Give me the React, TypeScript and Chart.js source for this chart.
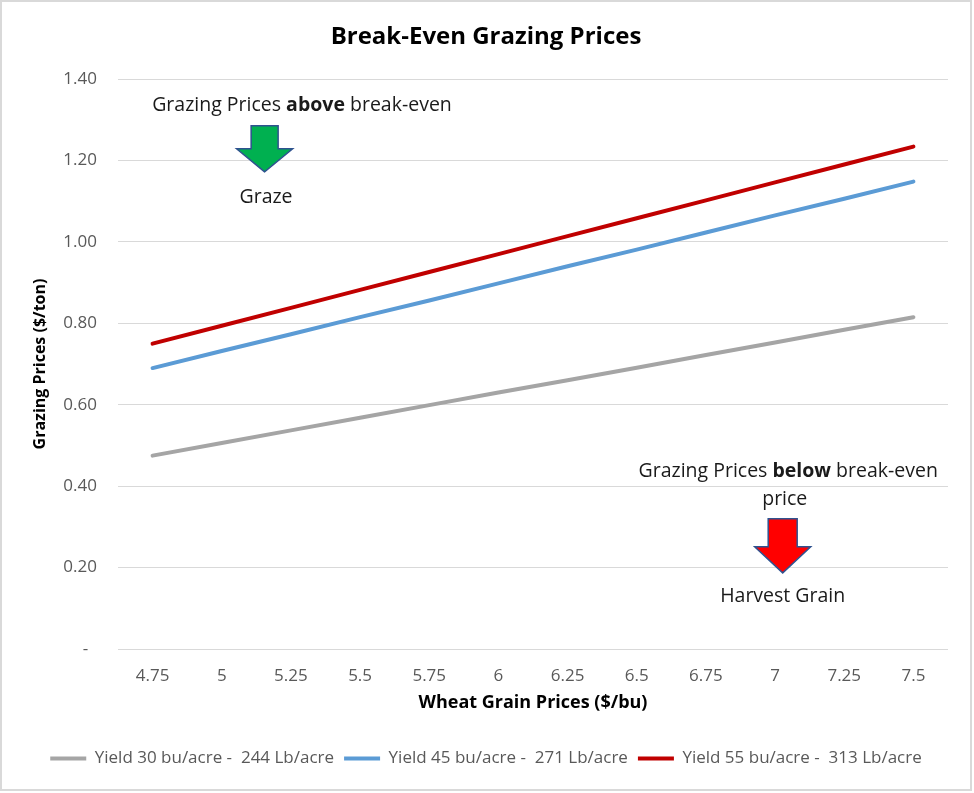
import React, { useEffect, useRef } from 'react';
import Chart from 'chart.js/auto';

// wheat grain price categories ($/bu)
const wheatPrices = ['4.75', '5', '5.25', '5.5', '5.75', '6', '6.25', '6.5', '6.75', '7', '7.25', '7.5'];

// break-even grazing prices ($/ton)
const yield30 = [0.475, 0.506, 0.537, 0.568, 0.599, 0.630, 0.660, 0.691, 0.722, 0.753, 0.784, 0.815];
const yield45 = [0.690, 0.732, 0.773, 0.815, 0.856, 0.898, 0.940, 0.981, 1.023, 1.065, 1.106, 1.148];
const yield55 = [0.750, 0.794, 0.838, 0.882, 0.926, 0.970, 1.014, 1.058, 1.102, 1.146, 1.190, 1.234];

const seriesLabels = [
  'Yield 30 bu/acre -  244 Lb/acre',
  'Yield 45 bu/acre -  271 Lb/acre',
  'Yield 55 bu/acre -  313 Lb/acre'
];
const seriesColors = ['#a5a5a5', '#5b9bd5', '#c00000'];

const yTicks = [0, 0.2, 0.4, 0.6, 0.8, 1.0, 1.2, 1.4];

const FONT = "'Open Sans', 'Noto Sans', sans-serif";
const NOTE_SIZE = 19.5;

// callouts anchored in data space (category index, value)
const aboveNote = { x: 2.16, y: 1.336, pre: 'Grazing Prices ', bold: 'above', post: ' break-even' };
const grazeNote = { x: 1.64, y: 1.11, text: 'Graze' };
const greenArrow = { x: 1.62, y: 1.172, color: '#00b050' };
const belowNote = { x: 9.19, y: 0.437, pre: 'Grazing Prices ', bold: 'below', post: ' break-even' };
const priceNote = { x: 9.14, y: 0.368, text: 'price' };
const harvestNote = { x: 9.11, y: 0.13, text: 'Harvest Grain' };
const redArrow = { x: 9.11, y: 0.187, color: '#ff0000' };

const drawArrow = (ctx: CanvasRenderingContext2D, tipX: number, tipY: number, h: number, headH: number, headW: number, shaftW: number, fill: string) => {
  ctx.beginPath();
  ctx.moveTo(tipX, tipY);
  ctx.lineTo(tipX - headW / 2, tipY - headH);
  ctx.lineTo(tipX - shaftW / 2, tipY - headH);
  ctx.lineTo(tipX - shaftW / 2, tipY - h);
  ctx.lineTo(tipX + shaftW / 2, tipY - h);
  ctx.lineTo(tipX + shaftW / 2, tipY - headH);
  ctx.lineTo(tipX + headW / 2, tipY - headH);
  ctx.closePath();
  ctx.fillStyle = fill;
  ctx.fill();
  ctx.strokeStyle = '#2f528f';
  ctx.lineWidth = 1.5;
  ctx.lineJoin = 'miter';
  ctx.stroke();
};

const drawMixed = (ctx: CanvasRenderingContext2D, cx: number, cy: number, pre: string, bold: string, post: string) => {
  const reg = `${NOTE_SIZE}px ${FONT}`;
  const bld = `bold ${NOTE_SIZE}px ${FONT}`;
  ctx.font = reg;
  const w1 = ctx.measureText(pre).width;
  const w3 = ctx.measureText(post).width;
  ctx.font = bld;
  const w2 = ctx.measureText(bold).width;
  let x = cx - (w1 + w2 + w3) / 2;
  ctx.textAlign = 'left';
  ctx.textBaseline = 'middle';
  ctx.fillStyle = '#1a1a1a';
  ctx.font = reg;
  ctx.fillText(pre, x, cy);
  x += w1;
  ctx.font = bld;
  ctx.fillText(bold, x, cy);
  x += w2;
  ctx.font = reg;
  ctx.fillText(post, x, cy);
};

const calloutPlugin = {
  id: 'callouts',
  afterDatasetsDraw(chart: any) {
    const { ctx } = chart;
    const xs = chart.scales.x;
    const ys = chart.scales.y;
    const px = (v: number) => xs.getPixelForValue(v);
    const py = (v: number) => ys.getPixelForValue(v);
    ctx.save();
    drawMixed(ctx, px(aboveNote.x), py(aboveNote.y), aboveNote.pre, aboveNote.bold, aboveNote.post);
    drawMixed(ctx, px(belowNote.x), py(belowNote.y), belowNote.pre, belowNote.bold, belowNote.post);
    ctx.font = `${NOTE_SIZE}px ${FONT}`;
    ctx.textAlign = 'center';
    ctx.textBaseline = 'middle';
    ctx.fillStyle = '#1a1a1a';
    ctx.fillText(grazeNote.text, px(grazeNote.x), py(grazeNote.y));
    ctx.fillText(priceNote.text, px(priceNote.x), py(priceNote.y));
    ctx.fillText(harvestNote.text, px(harvestNote.x), py(harvestNote.y));
    drawArrow(ctx, px(greenArrow.x), py(greenArrow.y), 46, 23, 56, 27, greenArrow.color);
    drawArrow(ctx, px(redArrow.x), py(redArrow.y), 54, 26, 56, 29, redArrow.color);
    ctx.restore();
  }
};

const BreakEvenChart: React.FC = () => {
  const canvasRef = useRef<HTMLCanvasElement>(null);
  const chartRef = useRef<Chart | null>(null);

  useEffect(() => {
    document.body.style.margin = '0';
    if (!canvasRef.current) return;

    const seriesData = [yield30, yield45, yield55];

    chartRef.current = new Chart(canvasRef.current, {
      type: 'line',
      data: {
        labels: wheatPrices,
        datasets: seriesData.map((d, i) => ({
          label: seriesLabels[i],
          data: d,
          borderColor: seriesColors[i],
          backgroundColor: seriesColors[i],
          borderWidth: 4,
          borderCapStyle: 'round',
          pointRadius: 0,
          tension: 0,
          fill: false
        }))
      },
      options: {
        animation: false,
        responsive: false,
        devicePixelRatio: 1,
        layout: { padding: { top: 0, left: 0, right: 0, bottom: 12 } },
        scales: {
          x: {
            offset: true,
            grid: { display: false },
            border: { display: false },
            ticks: {
              color: '#595959',
              padding: 8.5,
              maxRotation: 0,
              autoSkip: false,
              font: { family: FONT, size: 17 }
            },
            title: {
              display: true,
              text: 'Wheat Grain Prices ($/bu)',
              color: '#000',
              padding: { top: 0, bottom: 26 },
              font: { family: FONT, size: 18, weight: 'bold' }
            },
            afterFit: (scale: any) => { scale.height = 91; }
          } as any,
          y: {
            min: 0,
            max: 1.4,
            afterBuildTicks: (scale: any) => { scale.ticks = yTicks.map((v) => ({ value: v })); },
            grid: { color: '#d9d9d9', lineWidth: 1, drawTicks: false },
            border: { display: false },
            ticks: {
              color: '#595959',
              padding: 21,
              font: { family: FONT, size: 17 },
              callback: (v: any) => (Number(v) === 0 ? '-  ' : Number(v).toFixed(2))
            },
            title: {
              display: true,
              text: 'Grazing Prices ($/ton)',
              color: '#000',
              padding: { top: 29, bottom: 0 },
              font: { family: FONT, size: 16, weight: 'bold' }
            },
            afterFit: (scale: any) => { scale.width = 116; }
          } as any,
          yRight: {
            position: 'right',
            display: true,
            grid: { display: false },
            border: { display: false },
            ticks: { display: false },
            afterFit: (scale: any) => { scale.width = 22; }
          } as any
        },
        plugins: {
          title: {
            display: true,
            text: 'Break-Even Grazing Prices',
            color: '#000',
            padding: { top: 20.6, bottom: 27.6 },
            font: { family: FONT, size: 24, weight: 'bold' }
          },
          legend: {
            display: true,
            position: 'bottom',
            labels: {
              color: '#595959',
              padding: 10,
              usePointStyle: true,
              pointStyle: 'line',
              pointStyleWidth: 36,
              font: { family: FONT, size: 17 }
            }
          },
          tooltip: { enabled: false }
        }
      },
      plugins: [calloutPlugin]
    } as any);

    return () => {
      chartRef.current?.destroy();
      chartRef.current = null;
    };
  }, []);

  return (
    <div
      style={{
        width: 972,
        height: 791,
        border: '2px solid #d9d9d9',
        boxSizing: 'border-box',
        background: '#fff'
      }}
    >
      <canvas ref={canvasRef} width={968} height={787} style={{ display: 'block' }}></canvas>
    </div>
  );
};

export default function App() {
  return <BreakEvenChart />;
}
